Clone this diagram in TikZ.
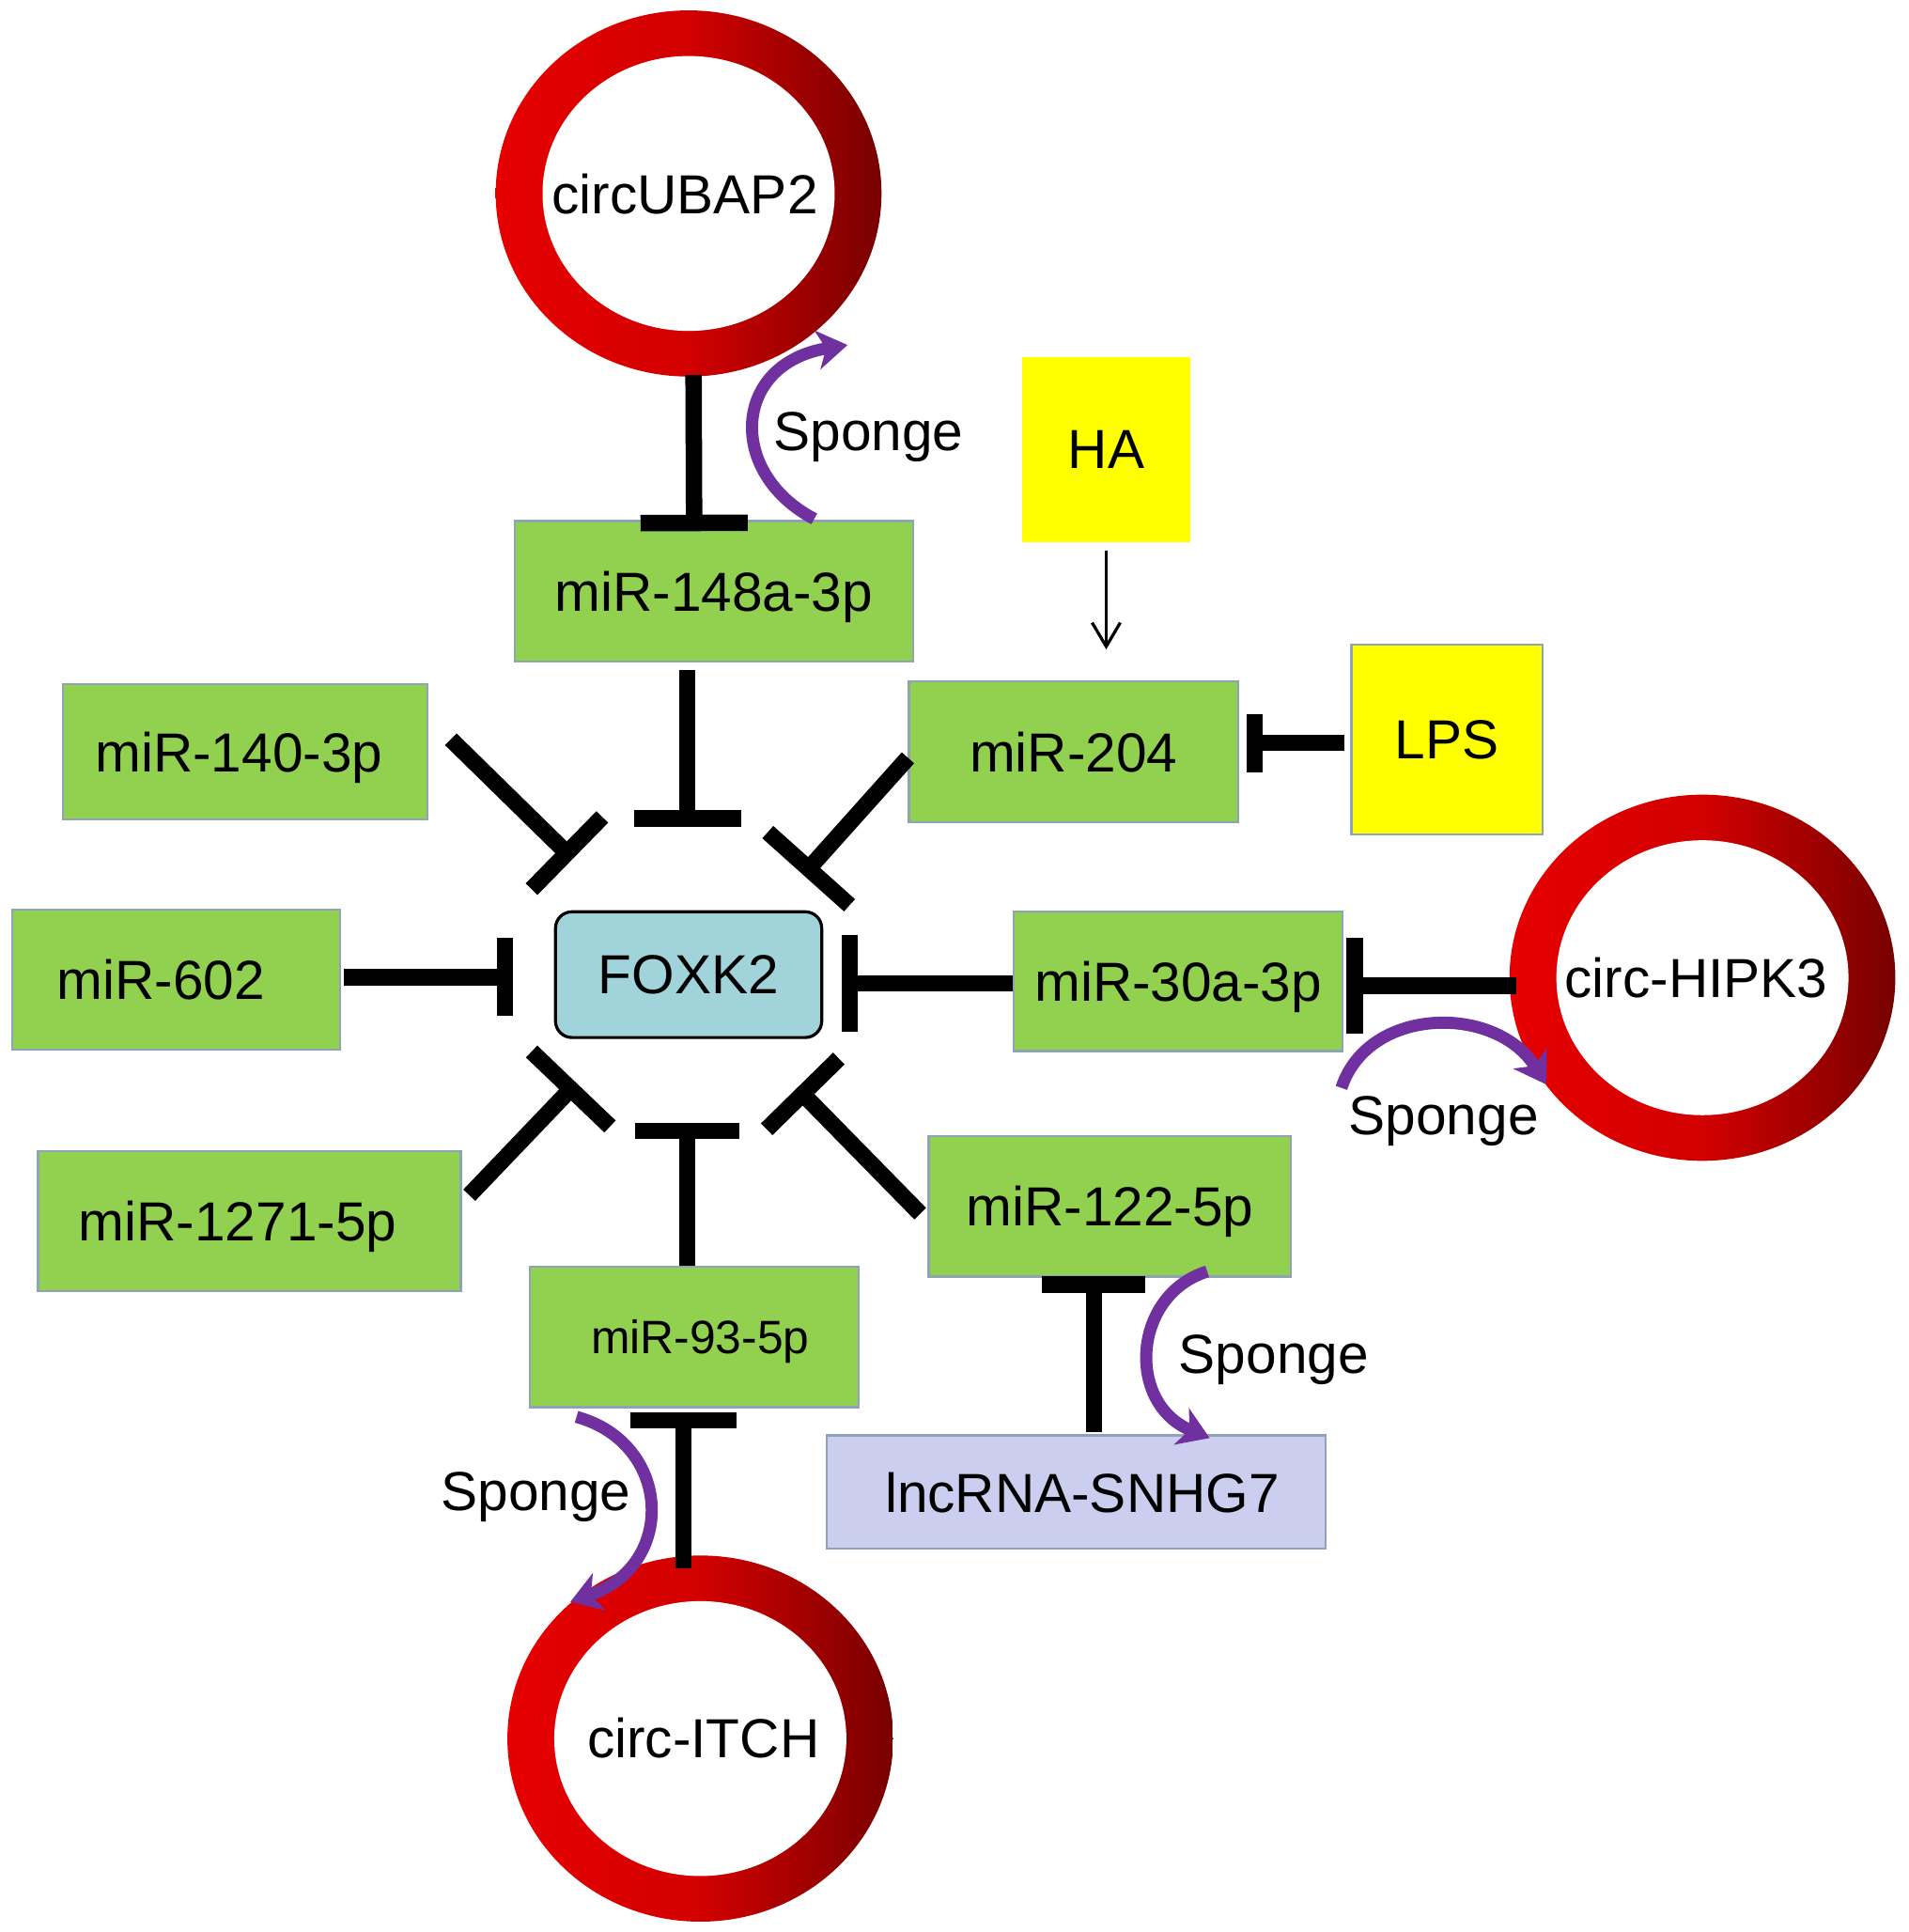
\documentclass[tikz,border=0pt]{standalone}
\usepackage{fontspec}
\setmainfont{Liberation Sans}
\usetikzlibrary{arrows.meta,shapes.geometric,calc}
\definecolor{mirgreen}{HTML}{92D050}
\definecolor{boxedge}{HTML}{8EA4B4}
\definecolor{hayellow}{HTML}{FFFF00}
\definecolor{foxblue}{HTML}{A0D4DA}
\definecolor{lncfill}{HTML}{CCCEF0}
\definecolor{ringA}{HTML}{E60000}
\definecolor{ringM}{HTML}{D20000}
\definecolor{ringB}{HTML}{780000}
\definecolor{sponge}{HTML}{7030A0}
\begin{document}
\begin{tikzpicture}[x=0.01cm,y=-0.01cm,
  lbl/.style={font=\fontsize{12.7}{15}\selectfont, inner sep=0pt, text=black, text depth=0pt},
  mir/.style={lbl, rectangle, fill=mirgreen, draw=boxedge, line width=0.5pt},
  ringnode/.style={ellipse, inner sep=0pt, minimum width=3.13cm, minimum height=2.97cm,
    left color=ringA, right color=ringB, middle color=ringM},
  holenode/.style={ellipse, inner sep=0pt, fill=white, minimum width=2.37cm, minimum height=2.23cm},
  inh/.style={line width=3.8pt, -{Bar[width=#1]}},
  spongearrow/.style={draw=sponge, line width=2.8pt, -{Stealth[length=7pt,width=9pt,inset=2pt]}},
]
\fill[white] (0,0) rectangle (1549,1568);
\useasboundingbox (0,0) rectangle (1549,1568);

% rings
\node[ringnode] (ubapR) at (559,157) {};
\node[holenode] (ubapH) at (559,157) {};
\node[lbl] (ubap) at (556,157) {circUBAP2};
\node[ringnode] (hipR) at (1382,793.5) {};
\node[holenode] (hipH) at (1382,793.5) {};
\node[lbl] (hip) at (1377,793) {circ-HIPK3};
\node[ringnode] (itchR) at (568.5,1411) {};
\node[holenode] (itchH) at (568.5,1411) {};
\node[lbl] (itch) at (571,1410) {circ-ITCH};

% boxes
\node[mir, minimum width=3.23cm, minimum height=1.14cm] (m148) at (579.5,480) {miR-148a-3p};
\node[mir, minimum width=2.96cm, minimum height=1.10cm] (m140) at (199,610) {\hspace*{-0.1cm}miR-140-3p};
\node[mir, minimum width=2.67cm, minimum height=1.14cm] (m204) at (871.5,610) {miR-204};
\node[lbl, fill=hayellow, minimum width=1.36cm, minimum height=1.50cm] (HA) at (898,365) {HA};
\node[lbl, fill=hayellow, draw=boxedge, line width=0.5pt, minimum width=1.55cm, minimum height=1.54cm] (LPS) at (1174.5,600) {LPS};
\node[lbl, fill=foxblue, draw=black, line width=0.7pt, rounded corners=3.8pt, minimum width=2.16cm, minimum height=1.02cm] (fox) at (559,791) {FOXK2};
\node[mir, minimum width=2.66cm, minimum height=1.14cm] (m602) at (143,795) {\hspace*{-0.25cm}miR-602};
\node[mir, minimum width=2.67cm, minimum height=1.13cm] (m30a) at (956.5,796.5) {miR-30a-3p};
\node[mir, minimum width=3.43cm, minimum height=1.14cm] (m1271) at (202.5,991) {\hspace*{-0.19cm}miR-1271-5p};
\node[mir, minimum width=2.67cm, minimum height=1.14cm, font=\fontsize{10.8}{13}\selectfont] (m93) at (563.5,1085) {\hspace*{0.1cm}miR-93-5p};
\node[mir, minimum width=2.94cm, minimum height=1.14cm] (m122) at (901,979) {miR-122-5p};
\node[lbl, fill=lncfill, draw=boxedge, line width=0.5pt, minimum width=4.05cm, minimum height=0.92cm] (lnc) at (873.5,1211) {\hspace*{0.1cm}lncRNA-SNHG7};

% inhibitory connectors
\draw[inh=0.87cm] ($(ubapR.south)+(4,-2)$) -- ($(m148.north)+(-16,9)$);
\draw[inh=0.87cm] ($(m148.south)+(-21.5,6)$) -- ($(fox.north)+(-1,-68)$);
\draw[inh=0.82cm] ($(m140.east)+(18,-10)$) -- ($(fox.center)+(-94,-94)$);
\draw[inh=0.89cm] ($(m204.west)+(0,5)$) -- ($(fox.center)+(93,-81)$);
\draw[inh=0.47cm] ($(LPS.west)+(-5,3)$) -- ($(m204.east)+(6,-7)$);
\draw[inh=0.63cm] ($(m602.east)+(2,-2)$) -- ($(fox.west)+(-33,2)$);
\draw[inh=0.78cm] ($(m30a.west)+(0,1.5)$) -- ($(fox.east)+(15,7)$);
\draw[inh=0.78cm] ($(hipR.west)+(6,6.5)$) -- ($(m30a.east)+(2,3.5)$);
\draw[inh=0.88cm] ($(m1271.east)+(6,-21)$) -- ($(fox.center)+(-91,88)$);
\draw[inh=0.85cm] ($(m93.north)+(-5.5,0)$) -- ($(fox.south)+(-1,68)$);
\draw[inh=0.82cm] ($(m122.west)+(-6,6)$) -- ($(fox.center)+(88,92)$);
\draw[inh=0.84cm] ($(lnc.north)+(14.5,-2)$) -- ($(m122.south)+(-13,-1)$);
\draw[inh=0.86cm] ($(itchR.north)+(-13.5,11)$) -- ($(m93.south)+(-8.5,3)$);

% activation arrow
\draw[line width=0.7pt, -{Straight Barb[length=5.5pt,width=6.5pt]}] ($(HA.south)+(0,6)$) -- ($(HA.south |- m204.north)+(0,-25)$);

% sponge arrows
\draw[spongearrow] ($(m148.north)+(81.5,-1)$) .. controls +(-71,-37) and +(-94,15) .. ($(ubapR.center)+(129,123)$);
\draw[spongearrow] ($(m30a.south east)+(-2,29)$) .. controls +(22,-67) and +(-40,-65) .. ($(hipR.center)+(-127,86.5)$);
\draw[spongearrow] ($(m122.south)+(79,-5)$) .. controls +(-61,19) and +(-68,-28) .. ($(lnc.north)+(108.5,3)$);
\draw[spongearrow] ($(m93.south)+(-95.5,7)$) .. controls +(77,21) and +(87,-30) .. ($(itchR.center)+(-105.5,-111)$);

\node[lbl] (sp1) at (705,350) {Sponge};
\node[lbl] (sp2) at (1172,905) {Sponge};
\node[lbl] (sp3) at (1034,1099) {Sponge};
\node[lbl] (sp4) at (435,1210) {Sponge};
\end{tikzpicture}
\end{document}
